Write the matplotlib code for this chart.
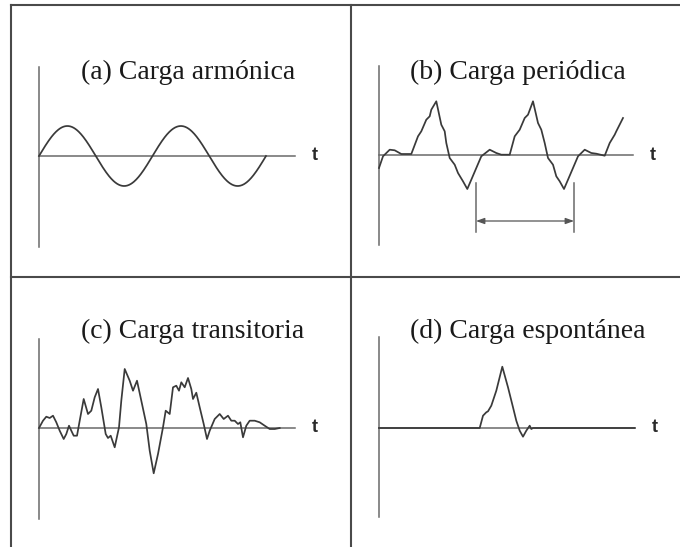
import numpy as np
import matplotlib
matplotlib.use("Agg")
import matplotlib.pyplot as plt
from matplotlib.lines import Line2D

# ---- data -------------------------------------------------------------
titles = ["(a) Carga armónica", "(b) Carga periódica",
          "(c) Carga transitoria", "(d) Carga espontánea"]
axis_label = "t"

# (a) harmonic load: amplitude and number of full cycles (time in periods)
harmonic_amplitude = 1.0
harmonic_cycles = 2

# (b) periodic load
periodic_t = [0, 4, 10.7, 15.7, 22.3, 32.3, 39, 42.3, 47.3, 50.7, 52.3, 57.3,
              62.3, 65.7, 67.3, 70.7, 75.7, 79, 84, 88.3, 92.3, 97.3, 102.3,
              110.7, 117.3, 122.3, 130.7, 135.7, 140.7, 145.7, 149, 154, 159,
              162.3, 165.7, 169, 174, 177.3, 180.7, 185, 189, 194, 199, 205.7,
              212.3, 217.3, 225.7, 230.7, 235.7, 237.3, 244]
periodic_f = [-13, -1.3, 5.3, 4.7, 1, 1, 18.7, 23.7, 35.3, 38.7, 45.3, 53.7,
              30.3, 23.7, 12, -3, -9.7, -18, -26.3, -34, -24.7, -13, -1.3,
              5.3, 2, 0.3, 0.3, 18.7, 25.3, 37, 40.3, 53.7, 32,
              25.3, 12, -3, -9.7, -21.3, -26.3, -34, -24.7, -13, -1.3, 5.3,
              2, 1.3, -0.7, 12, 20.3, 23.7, 37]
period_start, period_end = 97, 195

# (c) transient load
transient_t = [0, 4, 7.3, 10.7, 14, 17.3, 20.7, 24.7, 27.3, 30, 32.3, 34.7,
               38, 40.7, 44.7, 49, 52.3, 55.7, 59, 62.3, 66.7, 69, 71.7, 75.7,
               80, 82.3, 85.7, 90.7, 94, 98, 102.3, 107.3, 110.7, 114.7, 119,
               124, 126.7, 130.7, 134, 137.3, 140, 142.3, 145.7, 149, 152.3,
               154, 157.3, 160.7, 164.7, 168, 170.7, 175.7, 180.7, 184.7, 189,
               192.3, 195.7, 199, 201.3, 204, 207.3, 210.7, 215.7, 220.7,
               225.7, 230.7, 235.7, 240.7]
transient_f = [0, 7.3, 11.3, 10, 12.3, 5.7, -2.7, -11, -6, 2.3, -2.7, -7.7,
               -7.7, 7.3, 29, 14, 17.3, 30.7, 39, 20.7, -6, -10, -7.7, -19.3,
               0.7, 27.3, 59, 47.3, 37.3, 47.3, 27.3, 4, -22.7, -45.3, -26,
               0.7, 17.3, 14, 40.7, 42.3, 37.3, 45.7, 40.7, 50, 39,
               29, 35.3, 20.7, 4, -11, -2.7, 9, 14, 9, 12.3,
               7.3, 7.3, 4, 5.7, -9.3, 2.3, 7.3, 7.3, 5.7,
               2.3, -1, -1, 0]

# (d) impulsive (spontaneous) load
impulse_t = [0, 100.7, 104, 107.3, 109, 112.3, 117.3, 123.3, 129, 134, 137.3,
             140.7, 144, 147.3, 150.7, 152.3, 154, 255.7]
impulse_f = [0, 0, 12.3, 15.7, 16.7, 22.3, 37.3, 61.3, 40.7, 20.7, 7.3,
             -2.7, -8.7, -2.7, 2.3, -1, 0, 0]

# ---- figure -----------------------------------------------------------
W, H = 680, 547
fig = plt.figure(figsize=(W / 100, H / 100), dpi=100)
fig.patch.set_facecolor("white")

CURVE = "#3a3a3a"
AXIS = "#6a6a6a"
FRAME = "#4a4a4a"
LW = 1.25


def panel(ox, oy, xlim, ylim, sx, sy):
    """Axes whose data origin sits at pixel (ox, oy), sx/sy px per unit."""
    left = ox + xlim[0] * sx
    right = ox + xlim[1] * sx
    top = oy - ylim[1] * sy
    bottom = oy - ylim[0] * sy
    ax = fig.add_axes([left / W, 1 - bottom / H, (right - left) / W,
                       (bottom - top) / H])
    ax.set_xlim(*xlim)
    ax.set_ylim(*ylim)
    ax.axis("off")
    ax.plot([0, 0], ylim, color=AXIS, lw=1.1, clip_on=False)
    ax.plot([0, xlim[1]], [0, 0], color=AXIS, lw=1.1, clip_on=False)
    ax.annotate(axis_label, xy=(xlim[1], 0), xytext=(20, 0),
                textcoords="offset pixels", ha="center", va="center",
                fontsize=13, fontweight="bold", family="Liberation Sans",
                color="#2a2a2a")
    return ax


# (a)
sx_a, sy_a = 113.5, 30.0
ax_a = panel(39, 156, (0, 256 / sx_a), (-91 / sy_a, 89 / sy_a), sx_a, sy_a)
t_a = np.linspace(0, harmonic_cycles, 400)
ax_a.plot(t_a, harmonic_amplitude * np.sin(2 * np.pi * t_a), color=CURVE,
          lw=LW, clip_on=False)

# (b)
ax_b = panel(379, 155, (0, 254), (-90, 89), 1, 1)
ax_b.plot(periodic_t, periodic_f, color=CURVE, lw=LW, clip_on=False)
ax_b.plot([period_start, period_start], [-28, -77], color=AXIS, lw=1.1)
ax_b.plot([period_end, period_end], [-28, -77], color=AXIS, lw=1.1)
ax_b.annotate("", xy=(period_end, -66), xytext=(period_start, -66),
              arrowprops=dict(arrowstyle="<|-|>,head_length=0.5,head_width=0.18",
                              color="#555555", lw=0.9, shrinkA=0, shrinkB=0))

# (c)
ax_c = panel(39, 428, (0, 256), (-91, 89), 1, 1)
ax_c.plot(transient_t, transient_f, color=CURVE, lw=LW, clip_on=False)

# (d)
ax_d = panel(379, 428, (0, 256), (-89, 91), 1, 1)
ax_d.plot(impulse_t, impulse_f, color=CURVE, lw=LW, clip_on=False)

# titles
title_pos = [(188, 72), (518, 72), (193, 331), (528, 331)]
for (x, y), s in zip(title_pos, titles):
    fig.text(x / W, 1 - y / H, s, ha="center", va="center",
             family="Liberation Serif", fontsize=20, color="#1a1a1a")

# panel frame lines
def frame(x0, y0, x1, y1):
    fig.add_artist(Line2D([x0 / W, x1 / W], [1 - y0 / H, 1 - y1 / H],
                          color=FRAME, lw=1.5))

frame(11, 5, 11, H)
frame(11, 5, W, 5)
frame(351, 5, 351, H)
frame(11, 277, W, 277)

fig.savefig("out.png", dpi=100, facecolor="white")
